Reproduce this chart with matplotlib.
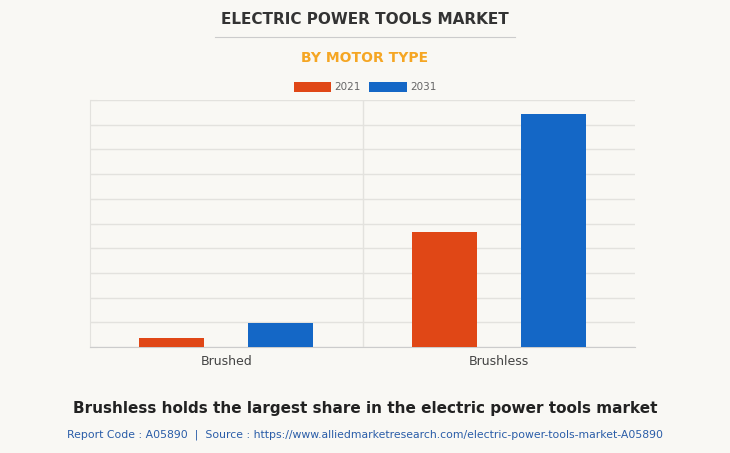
import matplotlib
matplotlib.use("Agg")
import matplotlib.pyplot as plt
import numpy as np

categories = ["Brushed", "Brushless"]
years = ["2021", "2031"]
values_2021 = [0.36, 4.66]
values_2031 = [0.97, 9.43]
colors = ["#E04716", "#1467C6"]
bg = "#F9F8F4"

fig = plt.figure(figsize=(7.30, 4.53), dpi=100, facecolor=bg)
ax = fig.add_axes([90/730, 1-347/453, 545/730, 247/453], facecolor=bg)
x = np.arange(len(categories))
w = 0.24
ax.bar(x - 0.2, values_2021, w, color=colors[0], label=years[0], zorder=3)
ax.bar(x + 0.2, values_2031, w, color=colors[1], label=years[1], zorder=3)
ax.set_xlim(-0.5, 1.5)
ax.set_ylim(0, 10)
ax.set_yticks(np.arange(0, 11, 1))
ax.yaxis.grid(True, color="#E3E2DE", lw=1, zorder=0)
ax.tick_params(axis="y", length=5, color="#E3E2DE", direction="in", labelleft=False)
ax.axvline(0.5, color="#E3E2DE", lw=1, zorder=0)
ax.set_xticks(x)
ax.set_xticklabels(categories, fontsize=9, color="#444444")
ax.tick_params(axis="x", length=0, pad=6)
for s in ["top", "right"]:
    ax.spines[s].set_visible(False)
ax.spines["left"].set_color("#E3E2DE")
ax.spines["bottom"].set_color("#CCCCCC")

fig.text(0.5, 1-20/453, "ELECTRIC POWER TOOLS MARKET", ha="center", va="center",
         fontsize=11, fontweight="bold", color="#333333")
fig.add_artist(plt.Line2D([215/730, 515/730], [1-37/453]*2, color="#CCCCCC", lw=0.8))
fig.text(0.5, 1-58/453, "BY MOTOR TYPE", ha="center", va="center",
         fontsize=10, fontweight="bold", color="#F5A623")
fig.legend(loc="center", bbox_to_anchor=(0.5, 1-87/453), ncol=2, frameon=False,
           fontsize=7.5, labelcolor="#666666", handlelength=3.6, handleheight=1.1,
           columnspacing=0.8, handletextpad=0.3)
fig.text(0.5, 1-408/453, "Brushless holds the largest share in the electric power tools market",
         ha="center", va="center", fontsize=11, fontweight="bold", color="#222222")
fig.text(0.5, 1-435/453,
         "Report Code : A05890  |  Source : https://www.alliedmarketresearch.com/electric-power-tools-market-A05890",
         ha="center", va="center", fontsize=7.8, color="#2A5DA8")
fig.savefig("out.png", dpi=100, facecolor=bg)
